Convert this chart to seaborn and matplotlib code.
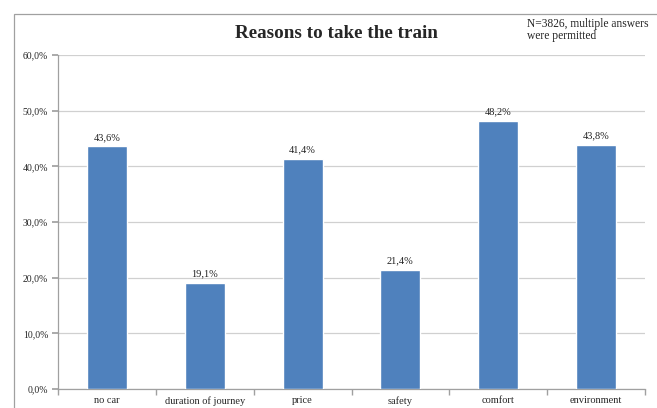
import matplotlib
matplotlib.use("Agg")
import matplotlib.pyplot as plt
import seaborn as sns
import pandas as pd
from matplotlib.patches import Rectangle

categories = ["no car", "duration of journey", "price", "safety", "comfort", "environment"]
shares = [43.6, 19.1, 41.4, 21.4, 48.2, 43.8]
y_ticks = [0, 10, 20, 30, 40, 50, 60]

df = pd.DataFrame({"reason": categories, "share": shares})

sns.set_theme(style="white")
plt.rcParams["font.family"] = ["Liberation Serif", "DejaVu Serif"]

fig = plt.figure(figsize=(6.57, 4.08), dpi=100)
ax = fig.add_axes([58 / 657, 1 - 389 / 408, 587 / 657, (389 - 55) / 408])

# outer chart frame
fig.patches.append(Rectangle((14 / 657, -0.05), 1.0, 1 - 14 / 408 + 0.05,
                             transform=fig.transFigure, fill=False,
                             edgecolor="#a0a0a0", linewidth=0.9, zorder=0))

sns.barplot(data=df, x="reason", y="share", color="#4F81BD", width=0.41,
            saturation=1, ax=ax, zorder=3)

ax.set_ylim(0, 60)
ax.set_xlim(-0.5, len(categories) - 0.5)
ax.set_yticks(y_ticks)
ax.set_yticklabels([f"{v:.1f}%".replace(".", ",") for v in y_ticks], fontsize=7)
ax.yaxis.grid(True, color="#d0d0d0", linewidth=0.9, zorder=0)
ax.set_axisbelow(True)
ax.set_xlabel("")
ax.set_ylabel("")
ax.set_xticks(range(len(categories)))
ax.set_xticklabels(categories, fontsize=7.5)
ax.tick_params(axis="x", length=0, pad=5)
ax.tick_params(axis="y", length=4, color="#a0a0a0", pad=3, direction="out")
ax.yaxis.set_tick_params(left=True)

# minor ticks between categories
ax.set_xticks([i + 0.5 for i in range(-1, len(categories))], minor=True)
ax.tick_params(axis="x", which="minor", length=4, color="#a0a0a0", direction="out", bottom=True)

for side in ["top", "right"]:
    ax.spines[side].set_visible(False)
for side in ["left", "bottom"]:
    ax.spines[side].set_color("#a0a0a0")
    ax.spines[side].set_linewidth(0.9)

for i, v in enumerate(shares):
    ax.text(i, v + 0.8, f"{v:.1f}%".replace(".", ","), ha="center", va="bottom",
            fontsize=7.5, color="#202020")

fig.text(336 / 657, 1 - 33 / 408, "Reasons to take the train", ha="center", va="center",
         fontsize=13.8, fontweight="bold")
fig.text(527 / 657, 1 - 24 / 408, "N=3826, multiple answers",
         ha="left", va="center", fontsize=8.3)
fig.text(527 / 657, 1 - 36 / 408, "were permitted",
         ha="left", va="center", fontsize=8.3)

fig.savefig("out.png", dpi=100)
